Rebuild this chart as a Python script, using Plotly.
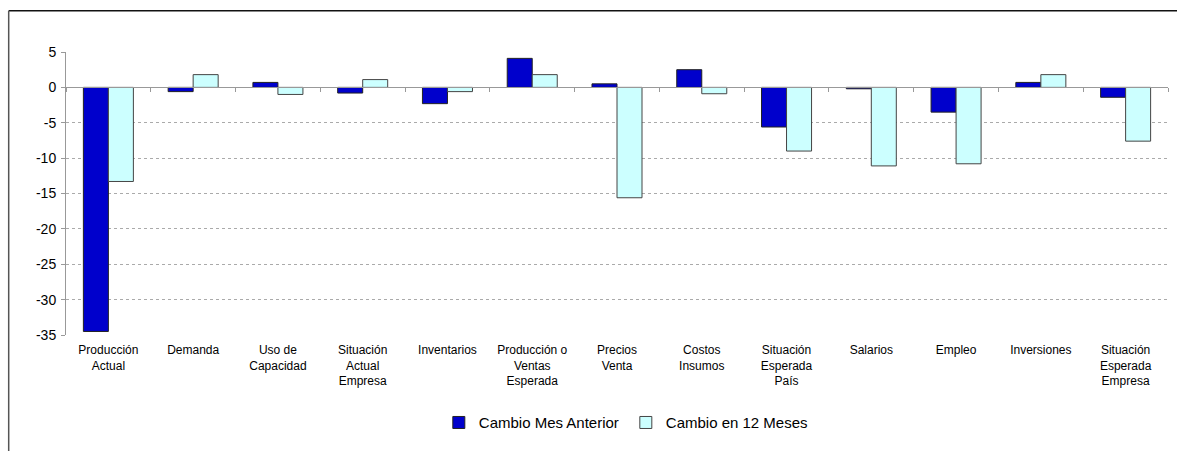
import plotly.graph_objects as go

categories = [
    "Producción<br>Actual", "Demanda", "Uso de<br>Capacidad", "Situación<br>Actual<br>Empresa",
    "Inventarios", "Producción o<br>Ventas<br>Esperada", "Precios<br>Venta", "Costos<br>Insumos",
    "Situación<br>Esperada<br>País", "Salarios", "Empleo", "Inversiones", "Situación<br>Esperada<br>Empresa",
]
cambio_mes_anterior = [-34.5, -0.6, 0.7, -0.8, -2.3, 4.1, 0.5, 2.5, -5.6, -0.2, -3.5, 0.7, -1.4]
cambio_12_meses = [-13.3, 1.8, -1.0, 1.1, -0.6, 1.8, -15.6, -0.9, -9.0, -11.1, -10.8, 1.8, -7.6]
series_names = ["Cambio Mes Anterior", "Cambio en 12 Meses"]
y_range = [-35, 5]
y_ticks = list(range(-35, 6, 5))

fig = go.Figure()
fig.add_trace(go.Bar(x=categories, y=cambio_mes_anterior, name=series_names[0],
                     marker=dict(color="#0000CC", line=dict(color="#222222", width=1))))
fig.add_trace(go.Bar(x=categories, y=cambio_12_meses, name=series_names[1],
                     marker=dict(color="#CCFFFF", line=dict(color="#444444", width=1))))

n = len(categories)
zero_pos = (0 - y_range[0]) / (y_range[1] - y_range[0])

fig.update_layout(
    width=1177, height=451,
    margin=dict(l=66, r=9, t=52, b=116),
    paper_bgcolor="white", plot_bgcolor="white",
    font=dict(family="Liberation Sans, Arial, sans-serif", size=12, color="#000"),
    barmode="group", bargap=0.41, bargroupgap=0,
    showlegend=True,
    legend=dict(orientation="h", x=0.508, xanchor="center", y=-0.31, yanchor="middle",
                font=dict(size=15), entrywidth=142, entrywidthmode="pixels"),
    xaxis=dict(type="category", range=[-0.5, n - 0.5], showline=False, ticks="",
               showgrid=False, tickfont=dict(size=12), ticklabelstandoff=6),
    xaxis2=dict(overlaying="x", anchor="free", position=zero_pos, range=[-0.5, n - 0.5],
                showline=True, linecolor="#999999", linewidth=1, ticks="outside",
                ticklen=4, tickcolor="#999999", tickvals=[i - 0.5 for i in range(n + 1)],
                showticklabels=False, showgrid=False, zeroline=False),
    yaxis=dict(range=y_range, tickvals=y_ticks, ticktext=[str(v) for v in y_ticks],
               showline=True, linecolor="#999999", linewidth=1,
               ticks="outside", ticklen=4, tickcolor="#999999", ticklabelstandoff=2,
               showgrid=True, gridcolor="#AAAAAA", griddash="3px,3px", gridwidth=1,
               zeroline=False, tickfont=dict(size=14)),
)
fig.add_trace(go.Scatter(x=[None], y=[None], xaxis="x2", showlegend=False, hoverinfo="skip"))

# chart frame (cropped at right and bottom)
fig.add_shape(type="line", xref="paper", yref="paper", x0=-0.052, x1=1.05, y0=1.146, y1=1.146,
              line=dict(color="#111111", width=1.5))
fig.add_shape(type="line", xref="paper", yref="paper", x0=-0.052, x1=-0.052, y0=1.146, y1=-0.5,
              line=dict(color="#555555", width=1.5))

fig.write_html("out.html", config={"displayModeBar": False},
               post_script="document.body.style.margin='0';")
